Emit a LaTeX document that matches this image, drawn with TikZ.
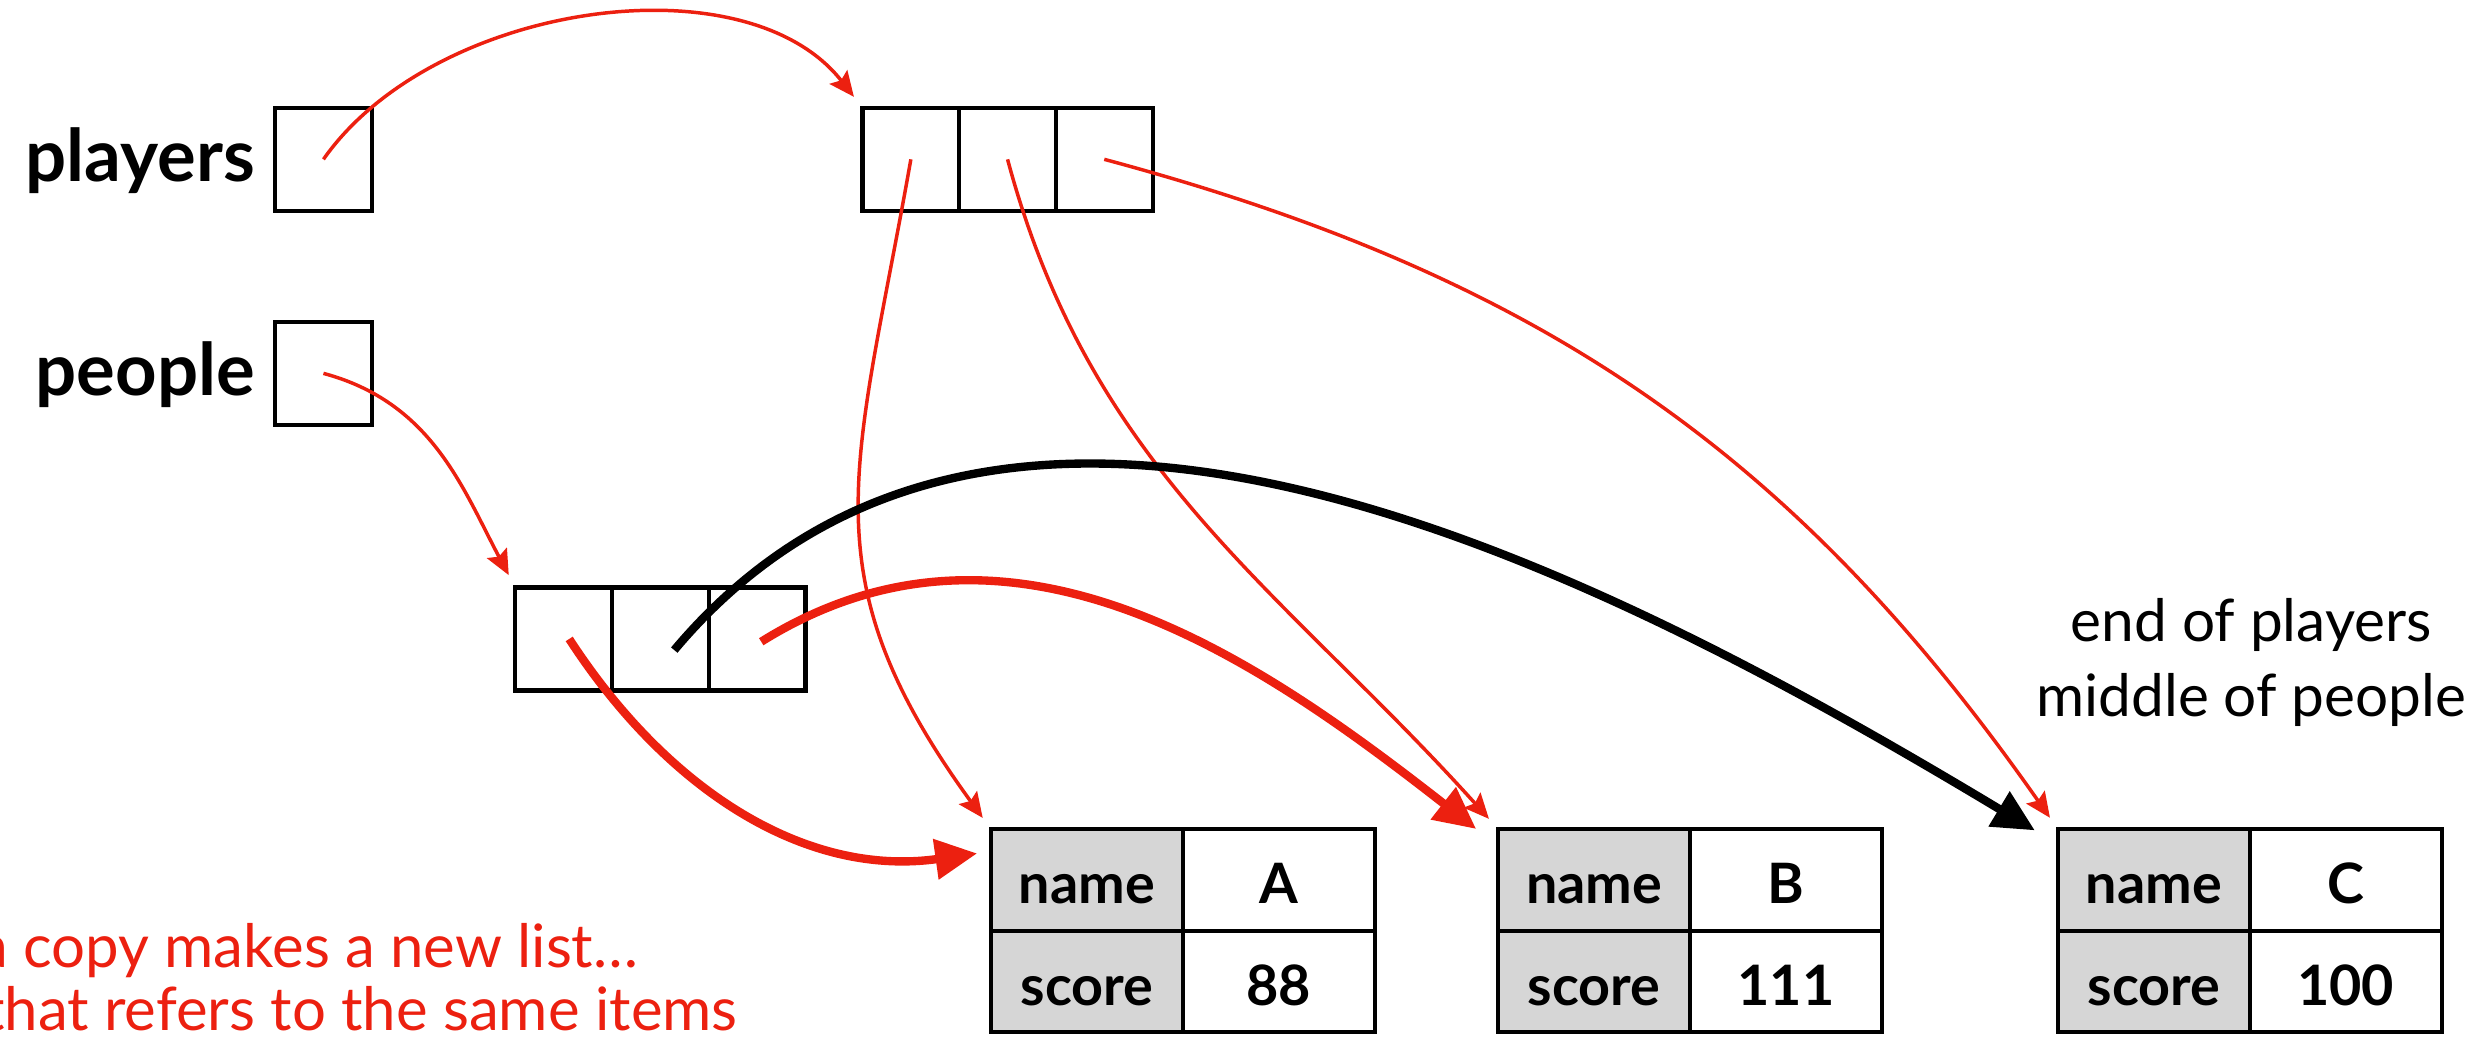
\documentclass[tikz,border=0pt]{standalone}
\usepackage{fontspec}
\setmainfont{Lato}
\usetikzlibrary{positioning,arrows.meta}
\definecolor{ptrred}{RGB}{236,32,16}
\definecolor{keygray}{RGB}{214,214,214}

\begin{document}
\begin{tikzpicture}[x=0.2mm,y=0.2mm,
    cell/.style={draw, line width=1.5pt, minimum width=12.2mm, minimum height=13mm, inner sep=0pt, outer sep=0pt},
    keycell/.style={draw, line width=1.5pt, fill=keygray, minimum width=24.2mm, minimum height=12.8mm,
      inner sep=0pt, outer sep=0pt, font=\fontsize{20}{24}\selectfont\bfseries, text height=17pt, text depth=0pt},
    valcell/.style={keycell, fill=white},
    varname/.style={font=\fontsize{26}{30}\selectfont\bfseries, inner sep=0pt},
    note/.style={ptrred, font=\fontsize{21.5}{26}\selectfont, inner sep=0pt},
    thin ref/.style={ptrred, line width=1.25pt, -{Stealth[length=9pt,width=8pt,inset=1.5pt]}, shorten >=5pt},
    thick ref/.style={ptrred, line width=3pt, -{Triangle[length=15pt,width=14pt]}, shorten >=5pt},
    ]
    \useasboundingbox (0,0) rectangle (1568,660);

    \node[cell] (playersbox) at (204,559.5) {};
    \node[varname, anchor=base east] (playerslbl) at ([xshift=-7pt,yshift=-8pt]playersbox.west) {players};
    \node[cell] (peoplebox) at (204,424.5) {};
    \node[varname, anchor=base east] (peoplelbl) at ([xshift=-7pt,yshift=-8pt]peoplebox.west) {people};

    % list that players refers to
    \node[cell] (p1) at (574.5,559.5) {};
    \node[cell, right=0pt of p1] (p2) {};
    \node[cell, right=0pt of p2] (p3) {};

    % the copy
    \node[cell] (c1) at (355.5,257) {};
    \node[cell, right=0pt of c1] (c2) {};
    \node[cell, right=0pt of c2] (c3) {};

    % the items
    \foreach \n/\s/\x in {A/88/685.5, B/111/1005.5, C/100/1358.5} {
      \node[keycell] (name\n) at (\x,105) {name};
      \node[valcell, right=0pt of name\n] (val\n) {\n};
      \node[keycell, below=0pt of name\n] (score\n) {score};
      \node[valcell, below=0pt of val\n] (num\n) {\s};
    }

    \node[font=\fontsize{21}{27}\selectfont, align=center] (endnote) at (1420,242) {end of players\\middle of people};
    \node[note, anchor=base west] (note1) at (-14,50) {a copy makes a new list…};
    \node[note, anchor=base west] (note2) at (-11,10) {that refers to the same items};

    \draw[thin ref] (playersbox.center) to[out=55, in=128, looseness=0.9] (p1.north west);
    \draw[thin ref] (peoplebox.center) to[out=-15, in=118] (c1.north west);
    \draw[thin ref] (p1.center) to[out=-100, in=126, looseness=1.2] (nameA.north west);
    \draw[thin ref] (p2.center) to[out=-75, in=132] (nameB.north west);
    \draw[thin ref] (p3.center) to[out=-15, in=125] (nameC.north west);
    \draw[thick ref] ([xshift=2pt]c1.center) to[out=-57, in=188] ([yshift=-8pt]nameA.north west);
    \draw[thick ref] ([xshift=1.5pt,yshift=-1pt]c3.center) to[out=32, in=142] ([xshift=-4pt,yshift=-3pt]nameB.north west);
    \draw[thick ref, black] ([xshift=5pt,yshift=-4pt]c2.center) to[out=50, in=149, looseness=0.95] ([xshift=-4pt,yshift=-3pt]nameC.north west);
\end{tikzpicture}
\end{document}
